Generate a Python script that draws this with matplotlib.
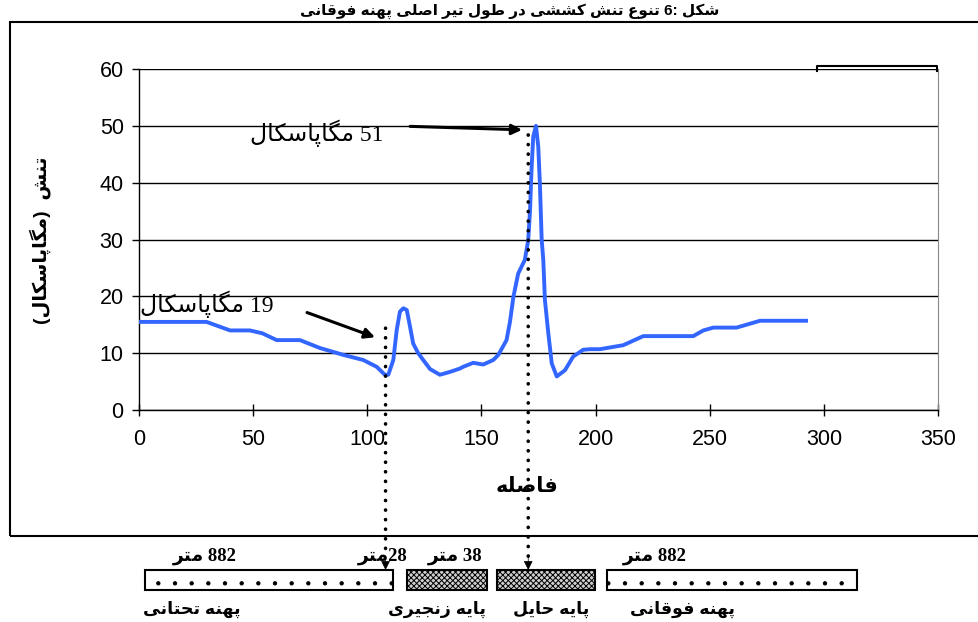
import matplotlib
matplotlib.use("Agg")
import matplotlib.pyplot as plt
from matplotlib.patches import Rectangle
from matplotlib.lines import Line2D

# data
dist = [0, 29.6, 39.9, 48.6, 54, 60.3, 70.5, 79.3, 89.5, 98.2,
        104.1, 107.7, 109.2, 111.4, 112.9, 114.3, 115.8, 117.3, 118.7, 120.1,
        122.3, 124.5, 127.5, 131.8, 136.2, 140.6, 142, 146.4, 150.8, 155.2,
        157.4, 161, 162.5, 164, 166.1, 169, 170.5, 171.3, 172, 172.7,
        173.9, 174.9, 175.6, 176.4, 177.1, 177.8, 179.3, 180.8, 183, 186.6,
        190.2, 194.6, 197.6, 201.9, 212.1, 220.9, 242.8, 247.2, 251.6, 261.8,
        272, 292.2]
stress = [15.5, 15.5, 14, 14, 13.5, 12.3, 12.3, 10.9, 9.7, 8.8,
          7.6, 6.2, 6.2, 8.8, 14.1, 17.3, 17.9, 17.6, 14.7, 11.7,
          10, 8.8, 7.2, 6.2, 6.7, 7.3, 7.6, 8.3, 8, 8.8,
          9.7, 12.3, 15.5, 19.9, 24, 26.4, 29.9, 35.2, 42.8, 48.1,
          50, 46.3, 39.9, 29.9, 26.4, 19.4, 13.5, 8.2, 5.9, 7,
          9.4, 10.6, 10.7, 10.7, 11.4, 13, 13, 14, 14.5, 14.5,
          15.7, 15.7]
x_ticks = [0, 50, 100, 150, 200, 250, 300, 350]
y_ticks = [0, 10, 20, 30, 40, 50, 60]
peak_low = 19
peak_high = 51
pier_x = [108, 170.5]

# matplotlib does no arabic shaping, so pick presentation forms by hand
DUAL = {'ب': 0xFE8F, 'ت': 0xFE95, 'ث': 0xFE99, 'ج': 0xFE9D, 'ح': 0xFEA1,
        'خ': 0xFEA5, 'س': 0xFEB1, 'ش': 0xFEB5, 'ص': 0xFEB9, 'ض': 0xFEBD,
        'ط': 0xFEC1, 'ع': 0xFEC9, 'ف': 0xFED1, 'ق': 0xFED5, 'ل': 0xFEDD,
        'م': 0xFEE1, 'ن': 0xFEE5, 'ه': 0xFEE9, 'ي': 0xFEF1, 'پ': 0xFB56,
        'چ': 0xFB7A, 'ک': 0xFB8E, 'گ': 0xFB92, 'ی': 0xFBFC}
RIGHT = {'ا': 0xFE8D, 'د': 0xFEA9, 'ذ': 0xFEAB, 'ر': 0xFEAD, 'ز': 0xFEAF,
         'ژ': 0xFB8A, 'و': 0xFEED}


def shape(word):
    out = []
    i = 0
    n = len(word)
    while i < n:
        c = word[i]
        prev = word[i - 1] if i > 0 else ''
        joins_prev = prev in DUAL
        nxt = word[i + 1] if i + 1 < n else ''
        if c == 'ل' and nxt == 'ا':
            out.append(chr(0xFEFC if joins_prev else 0xFEFB))
            i += 2
            continue
        if c in DUAL:
            joins_next = nxt in DUAL or nxt in RIGHT
            k = [[0, 2], [1, 3]][joins_prev][joins_next]
            out.append(chr(DUAL[c] + k))
        elif c in RIGHT:
            out.append(chr(RIGHT[c] + (1 if joins_prev else 0)))
        else:
            out.append(c)
        i += 1
    return ''.join(out[::-1])


def rtl(text):
    # visual order for a right-to-left line
    words = []
    for w in text.split(' '):
        if any(ch in DUAL or ch in RIGHT for ch in w):
            words.append(shape(w))
        else:
            words.append(w)
    return ' '.join(words[::-1])


plt.rcParams['font.family'] = ['Liberation Sans', 'DejaVu Sans']
plt.rcParams['hatch.color'] = '#444444'
plt.rcParams['hatch.linewidth'] = 0.7
serif = ['Liberation Serif', 'DejaVu Sans']

W, H = 979, 622
fig = plt.figure(figsize=(W / 100, H / 100), dpi=100)


def fp(x, y):
    return (x / W, 1 - y / H)


ax = fig.add_axes([139 / W, 1 - 410 / H, (938 - 139) / W, (410 - 69) / H])
ax.plot(dist, stress, color='#3366FF', lw=2.8, solid_joinstyle='round', zorder=3)
ax.set_xlim(0, 350)
ax.set_ylim(0, 60)
ax.set_xticks(x_ticks)
ax.set_yticks(y_ticks)
ax.tick_params(labelsize=15.5, length=5, width=1, color='black')
ax.tick_params(axis='x', direction='inout', length=8, pad=10)
ax.tick_params(axis='y', pad=6)
ax.yaxis.grid(True, color='black', lw=1)
ax.set_axisbelow(True)
ax.spines['top'].set_visible(False)
ax.spines['right'].set_color('#888888')
ax.spines['left'].set_linewidth(1)
ax.spines['bottom'].set_linewidth(1)

# axis titles
fig.text(40 / W, 1 - 240 / H, '(' + shape('مگاپاسکال') + ')  ' + shape('تنش'),
         rotation=90, ha='center', va='center', fontsize=14, fontweight='bold')
fig.text(*fp(527, 487), shape('فاصله'), ha='center', va='center',
         fontsize=15, fontweight='bold')

# title squeezed above the frame
fig.text(*fp(510, 15), rtl('شکل 6: تنوع تنش کششی در طول تیر اصلی پهنه فوقانی'),
         ha='center', va='baseline', fontsize=11, fontweight='bold')

# chart frame
fig.add_artist(Rectangle(fp(10, 536), (W + 5 - 10) / W, (536 - 22) / H,
                         transform=fig.transFigure, facecolor='none', lw=1.5,
                         edgecolor='black', clip_on=False))
# leftover legend box edge
fig.add_artist(Line2D([817 / W, 817 / W, 937 / W, 937 / W],
                      [1 - 71 / H, 1 - 66 / H, 1 - 66 / H, 1 - 71 / H],
                      transform=fig.transFigure, color='black', lw=1.5))

# peak callouts
ax.annotate(rtl(f'{peak_low} مگاپاسکال'), xy=(103.4, 12.8), xytext=(0.5, 18.6),
            fontsize=17, family=serif, va='center', ha='left',
            arrowprops=dict(arrowstyle='-|>', lw=2.2, color='black',
                            mutation_scale=15, shrinkA=0, shrinkB=0,
                            relpos=(1.25, 0.2)))
ax.annotate(rtl(f'{peak_high} مگاپاسکال'), xy=(167.8, 49.3), xytext=(48.6, 48.7),
            fontsize=17, family=serif, va='center', ha='left',
            arrowprops=dict(arrowstyle='-|>', lw=2.2, color='black',
                            mutation_scale=15, shrinkA=0, shrinkB=0,
                            relpos=(1.2, 0.75)))

# dotted drop lines from the curve to the bridge sketch
tip = 1 - 570 / H
for px, top in zip(pier_x, [14.4, 48.4]):
    ax.annotate('', xy=(px, tip + 0.02), xycoords=('data', 'figure fraction'),
                xytext=(px, top), textcoords='data',
                arrowprops=dict(arrowstyle='-', lw=2.6, color='black',
                                linestyle=(0, (0.05, 2.6)), capstyle='round',
                                shrinkA=0, shrinkB=0))
    ax.annotate('', xy=(px, tip), xycoords=('data', 'figure fraction'),
                xytext=(px, tip + 0.022), textcoords=('data', 'figure fraction'),
                arrowprops=dict(arrowstyle='-|>', lw=0.5, color='black',
                                mutation_scale=14, shrinkA=0, shrinkB=0))

# bridge sketch below the frame
spans = [(145, 393, '.', 'white'), (407, 487, 'xxxxxx', '#cfcfcf'),
         (497, 595, 'xxxxxx', '#cfcfcf'), (607, 857, '.', 'white')]
for x0, x1, hatch, fc in spans:
    fig.add_artist(Rectangle(fp(x0, 590), (x1 - x0) / W, 20 / H,
                             transform=fig.transFigure, facecolor=fc,
                             edgecolor='black', hatch=hatch, lw=1.5))

top_labels = [(205, shape('متر') + ' 882'), (383, shape('متر') + '28'),
              (455, shape('متر') + ' 38'), (655, shape('متر') + ' 882')]
for x, s in top_labels:
    fig.text(*fp(x, 556), s, ha='center', va='center', fontsize=13.5,
             fontweight='bold', family=serif)

bottom_labels = [(192, 'پهنه تحتانی'), (437, 'پایه زنجیری'),
                 (551, 'پایه حایل'), (682, 'پهنه فوقانی')]
for x, s in bottom_labels:
    fig.text(*fp(x, 609), rtl(s), ha='center', va='center', fontsize=12.5,
             fontweight='bold')

fig.savefig('out.png', dpi=100)
